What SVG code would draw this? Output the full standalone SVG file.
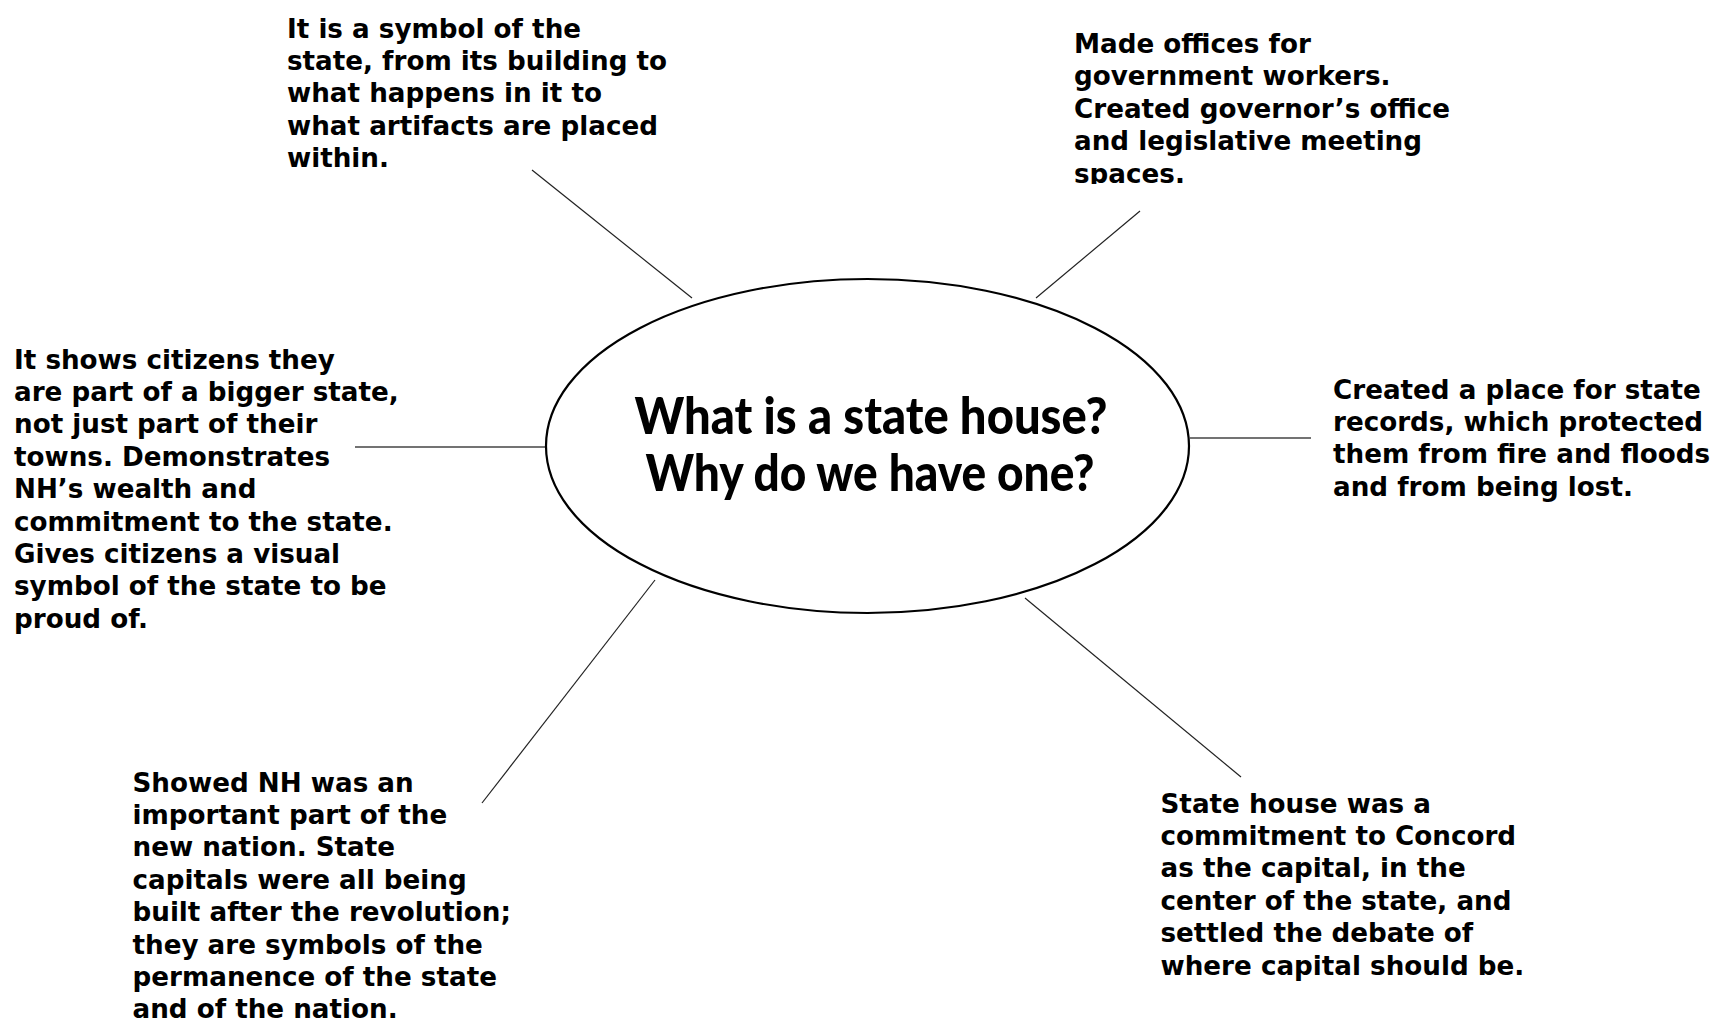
<svg xmlns="http://www.w3.org/2000/svg" width="1717" height="1020" viewBox="0 0 1717 1020">
<style>
.t{font-family:"DejaVu Sans","Verdana",sans-serif;font-weight:bold;font-size:26.2px;fill:#000}
.title{font-family:"Lato","Open Sans",sans-serif;font-weight:900;font-size:51px;fill:#000;text-anchor:middle}
.c{stroke:#222;stroke-width:1.2;fill:none}
.h{stroke:#444;stroke-width:1.6;fill:none}
</style>
<defs>
<clipPath id="clipTR"><rect x="1060" y="0" width="500" height="184"/></clipPath>
</defs>
<rect width="1717" height="1020" fill="#fff"/>
<g id="connectors">
<line class="c" x1="532" y1="170" x2="692" y2="298"/>
<line class="c" x1="1140" y1="211" x2="1036" y2="298"/>
<line class="h" x1="355" y1="447" x2="546" y2="447"/>
<line class="h" x1="1190" y1="438" x2="1311" y2="438"/>
<line class="c" x1="655" y1="580" x2="482" y2="803"/>
<line class="c" x1="1025" y1="598" x2="1241" y2="777"/>
</g>
<g id="center">
<ellipse cx="867.5" cy="446" rx="321.5" ry="167" fill="#fff" stroke="#000" stroke-width="2.2"/>
<text class="title" x="871" y="434" textLength="473" lengthAdjust="spacingAndGlyphs">What is a state house?</text>
<text class="title" x="870" y="491" textLength="449" lengthAdjust="spacingAndGlyphs">Why do we have one?</text>
</g>
<g id="node-top-left">
<text class="t" x="287" y="37.5">It is a symbol of the</text>
<text class="t" x="287" y="69.9">state, from its building to</text>
<text class="t" x="287" y="102.3">what happens in it to</text>
<text class="t" x="287" y="134.7">what artifacts are placed</text>
<text class="t" x="287" y="167.1">within.</text>
</g>
<g id="node-top-right" clip-path="url(#clipTR)">
<text class="t" x="1074" y="53">Made offices for</text>
<text class="t" x="1074" y="85.4">government workers.</text>
<text class="t" x="1074" y="117.8">Created governor’s office</text>
<text class="t" x="1074" y="150.2">and legislative meeting</text>
<text class="t" x="1074" y="182.6">spaces.</text>
</g>
<g id="node-right">
<text class="t" x="1333" y="398.5">Created a place for state</text>
<text class="t" x="1333" y="430.9">records, which protected</text>
<text class="t" x="1333" y="463.3">them from fire and floods</text>
<text class="t" x="1333" y="495.7">and from being lost.</text>
</g>
<g id="node-left">
<text class="t" x="14" y="368.5">It shows citizens they</text>
<text class="t" x="14" y="400.9">are part of a bigger state,</text>
<text class="t" x="14" y="433.3">not just part of their</text>
<text class="t" x="14" y="465.7">towns. Demonstrates</text>
<text class="t" x="14" y="498.1">NH’s wealth and</text>
<text class="t" x="14" y="530.5">commitment to the state.</text>
<text class="t" x="14" y="562.9">Gives citizens a visual</text>
<text class="t" x="14" y="595.3">symbol of the state to be</text>
<text class="t" x="14" y="627.7">proud of.</text>
</g>
<g id="node-bottom-left">
<text class="t" x="132.5" y="791.5">Showed NH was an</text>
<text class="t" x="132.5" y="823.9">important part of the</text>
<text class="t" x="132.5" y="856.3">new nation. State</text>
<text class="t" x="132.5" y="888.7">capitals were all being</text>
<text class="t" x="132.5" y="921.1">built after the revolution;</text>
<text class="t" x="132.5" y="953.5">they are symbols of the</text>
<text class="t" x="132.5" y="985.9">permanence of the state</text>
<text class="t" x="132.5" y="1018.3">and of the nation.</text>
</g>
<g id="node-bottom-right">
<text class="t" x="1160.5" y="812.5">State house was a</text>
<text class="t" x="1160.5" y="844.9">commitment to Concord</text>
<text class="t" x="1160.5" y="877.3">as the capital, in the</text>
<text class="t" x="1160.5" y="909.7">center of the state, and</text>
<text class="t" x="1160.5" y="942.1">settled the debate of</text>
<text class="t" x="1160.5" y="974.5">where capital should be.</text>
</g>
</svg>
